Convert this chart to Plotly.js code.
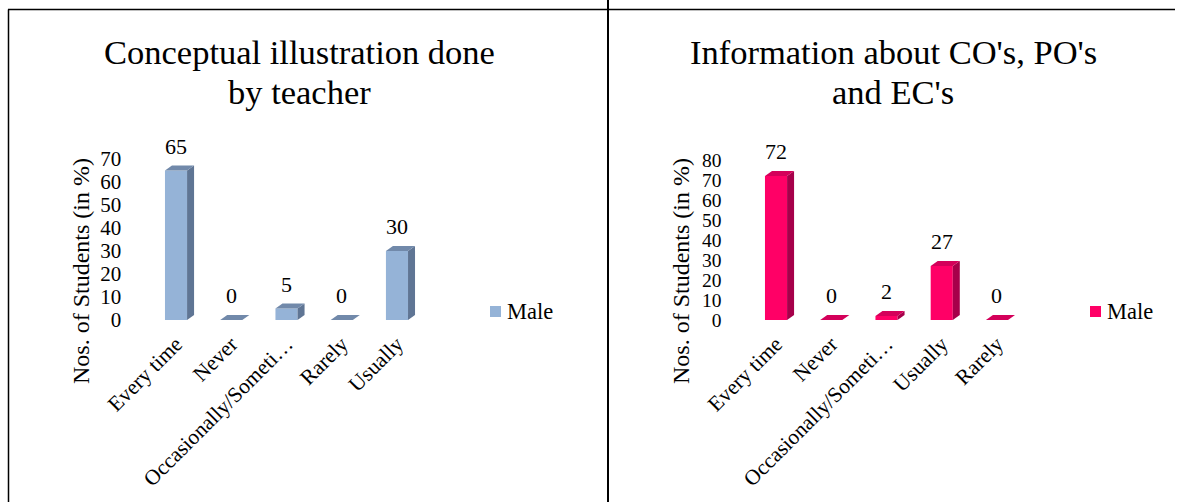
<!DOCTYPE html>
<html>
<head>
<meta charset="utf-8">
<script src="https://cdn.plot.ly/plotly-3.0.1.min.js"></script>
<style>html,body{margin:0;padding:0;background:#fff;}#chart{width:1179px;height:502px;}</style>
</head>
<body>
<div id="chart"></div>
<script>
// ---- data ----
const titleA = ['Conceptual illustration done', 'by teacher'];
const categoriesA = ['Every time', 'Never', 'Occasionally/Someti…', 'Rarely', 'Usually'];
const valuesA = [65, 0, 5, 0, 30];
const yTicksA = [0, 10, 20, 30, 40, 50, 60, 70];

const titleB = ["Information about CO's, PO's", "and EC's"];
const categoriesB = ['Every time', 'Never', 'Occasionally/Someti…', 'Usually', 'Rarely'];
const valuesB = [72, 0, 2, 27, 0];
const yTicksB = [0, 10, 20, 30, 40, 50, 60, 70, 80];

const seriesName = 'Male';
const yTitle = 'Nos. of Students (in %)';

// ---- layout geometry (pixels) ----
const W = 1179, H = 502;
const FONT = 'Liberation Serif, Times New Roman, serif';
const panels = [
  {cats: categoriesA, vals: valuesA, ticks: yTicksA, title: titleA, xPx: [148.4, 424.6], yTopPx: 159, yBotPx: 320,
   front: '#95B3D7', top: '#7189AA', side: '#5F7594', titleX: 299, yTitleX: 81, legendX: 490, tickSize: 21},
  {cats: categoriesB, vals: valuesB, ticks: yTicksB, title: titleB, xPx: [748.4, 1024.6], yTopPx: 160, yBotPx: 320,
   front: '#FF0066', top: '#D4005A', side: '#A6004A', titleX: 893, yTitleX: 681, legendX: 1090, tickSize: 19.5}
];
const barW = 0.4, depthX = 7, depthY = 5;

const data = [], shapes = [], annotations = [];
const layout = {
  width: W, height: H, margin: {l: 0, r: 0, t: 0, b: 0},
  paper_bgcolor: '#fff', plot_bgcolor: 'rgba(0,0,0,0)',
  font: {family: FONT, color: '#000', size: 22},
  showlegend: false
};

panels.forEach((p, k) => {
  const sfx = k === 0 ? '' : '2';
  const yMax = p.ticks[p.ticks.length - 1];
  const pxPerCat = (p.xPx[1] - p.xPx[0]) / p.cats.length;
  const pxPerUnit = (p.yBotPx - p.yTopPx) / yMax;
  const dx = depthX / pxPerCat, dy = depthY / pxPerUnit;

  data.push({
    type: 'bar', x: p.cats, y: p.vals, name: seriesName,
    xaxis: 'x' + sfx, yaxis: 'y' + sfx, width: barW,
    marker: {color: p.front, line: {width: 0}}, hoverinfo: 'x+y'
  });

  layout['xaxis' + sfx] = {
    domain: [p.xPx[0] / W, p.xPx[1] / W], anchor: 'y' + sfx, type: 'category',
    range: [-0.5, p.cats.length - 0.5], showgrid: false, zeroline: false, showline: false,
    ticks: 'outside', ticklen: 2, tickcolor: 'rgba(0,0,0,0)',
    tickangle: -45, tickfont: {size: 21.5, family: FONT}, fixedrange: true
  };
  layout['yaxis' + sfx] = {
    domain: [(H - p.yBotPx) / H, (H - p.yTopPx) / H], anchor: 'x' + sfx,
    range: [0, yMax], tickvals: p.ticks, ticktext: p.ticks.map(String),
    showgrid: false, zeroline: false, showline: false,
    ticks: 'outside', ticklen: 22, tickcolor: 'rgba(0,0,0,0)',
    tickfont: {size: p.tickSize, family: FONT}, fixedrange: true
  };

  p.vals.forEach((v, i) => {
    const l = i - barW / 2, r = i + barW / 2;
    shapes.push({
      type: 'path', xref: 'x' + sfx, yref: 'y' + sfx, layer: 'above',
      path: `M${r},0 L${r},${v} L${r + dx},${v + dy} L${r + dx},${dy} Z`,
      fillcolor: p.side, line: {width: 0}
    });
    shapes.push({
      type: 'path', xref: 'x' + sfx, yref: 'y' + sfx, layer: 'above',
      path: `M${l},${v} L${r},${v} L${r + dx},${v + dy} L${l + dx},${v + dy} Z`,
      fillcolor: p.top, line: {width: 0}
    });
    annotations.push({
      xref: 'x' + sfx, yref: 'y' + sfx, x: i, y: v + dy, text: String(v),
      showarrow: false, yanchor: 'bottom', xanchor: 'center', yshift: 5,
      font: {size: 22, family: FONT}
    });
  });

  // chart title (two lines)
  p.title.forEach((t, j) => {
    annotations.push({
      xref: 'paper', yref: 'paper', x: p.titleX / W, y: (H - (52 + 40 * j)) / H,
      text: t, showarrow: false, xanchor: 'center', yanchor: 'middle',
      font: {size: 34.5, family: FONT}
    });
  });

  // y axis title
  annotations.push({
    xref: 'paper', yref: 'paper', x: p.yTitleX / W, y: (H - 271) / H,
    text: yTitle, showarrow: false, textangle: -90, xanchor: 'center', yanchor: 'middle',
    font: {size: 24, family: FONT}
  });

  // legend: colour key + series name
  shapes.push({
    type: 'rect', xref: 'paper', yref: 'paper',
    x0: p.legendX / W, x1: (p.legendX + 11) / W, y0: (H - 317) / H, y1: (H - 306) / H,
    fillcolor: p.front, line: {width: 0}
  });
  annotations.push({
    xref: 'paper', yref: 'paper', x: (p.legendX + 15) / W, y: (H - 311) / H,
    text: seriesName, showarrow: false, xanchor: 'left', yanchor: 'middle',
    font: {size: 22.5, family: FONT}
  });
});

// panel borders
shapes.push({type: 'line', xref: 'paper', yref: 'paper', x0: 8 / W, x1: 1175 / W, y0: (H - 9.5) / H, y1: (H - 9.5) / H, line: {color: '#000', width: 1.5}});
shapes.push({type: 'line', xref: 'paper', yref: 'paper', x0: 8.5 / W, x1: 8.5 / W, y0: (H - 9.5) / H, y1: 0, line: {color: '#000', width: 1.5}});
shapes.push({type: 'line', xref: 'paper', yref: 'paper', x0: 608 / W, x1: 608 / W, y0: 1, y1: 0, line: {color: '#000', width: 2}});

layout.shapes = shapes;
layout.annotations = annotations;

Plotly.newPlot('chart', data, layout, {displayModeBar: false, staticPlot: true});
</script>
</body>
</html>
